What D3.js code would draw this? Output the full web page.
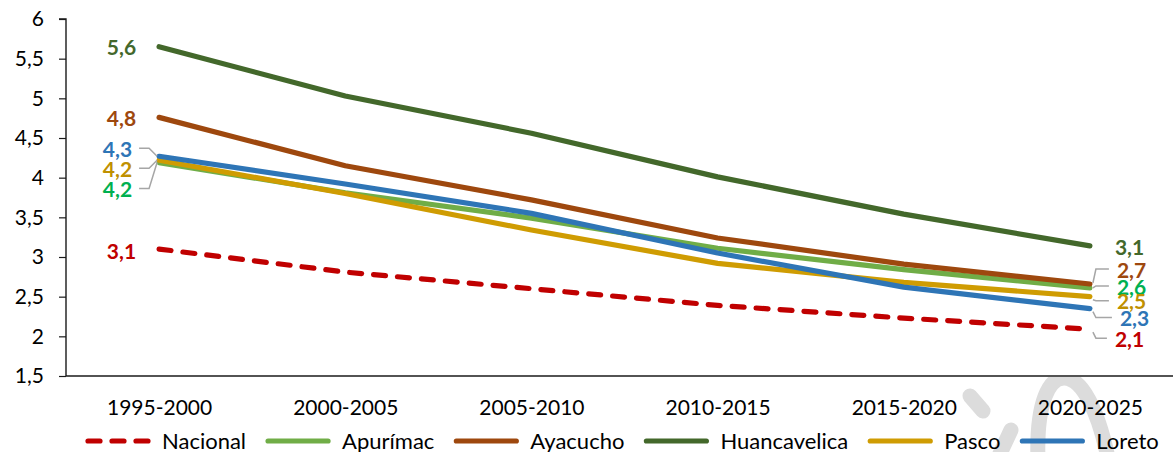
<!DOCTYPE html>
<html>
<head>
<meta charset="utf-8">
<script src="https://cdn.jsdelivr.net/npm/d3@7/dist/d3.min.js"></script>
<style>
  html, body { margin: 0; padding: 0; background: #fff; }
  svg { display: block; font-family: Lato, "Open Sans", sans-serif; }
</style>
</head>
<body>
<svg id="chart" width="1173" height="452"></svg>
<script>
// Periods on the horizontal axis
const periods = ["1995-2000", "2000-2005", "2005-2010", "2010-2015", "2015-2020", "2020-2025"];

// Total fertility rate by region (hijos por mujer)
const nacional     = [3.10, 2.81, 2.60, 2.39, 2.23, 2.09];
const apurimac     = [4.19, 3.81, 3.49, 3.11, 2.84, 2.61];
const ayacucho     = [4.76, 4.15, 3.72, 3.24, 2.91, 2.66];
const huancavelica = [5.65, 5.03, 4.56, 4.01, 3.54, 3.14];
const pasco        = [4.22, 3.80, 3.34, 2.92, 2.68, 2.50];
const loreto       = [4.27, 3.92, 3.55, 3.05, 2.62, 2.35];

// Value labels at the first and last period
const firstLabels = ["3,1", "4,2", "4,8", "5,6", "4,2", "4,3"];
const lastLabels  = ["2,1", "2,6", "2,7", "3,1", "2,5", "2,3"];

// Series names and y-axis ticks
const seriesNames = ["Nacional", "Apurímac", "Ayacucho", "Huancavelica", "Pasco", "Loreto"];
const yTicks = [1.5, 2, 2.5, 3, 3.5, 4, 4.5, 5, 5.5, 6];

// ---- styling / layout ----
const lineColors  = ["#C00000", "#70AD47", "#9E480E", "#43682B", "#CF9C02", "#2E75B6"];
const labelColors = ["#C00000", "#00B050", "#9E480E", "#43682B", "#BF9000", "#2E75B6"];
// vertical offset (px) of each value label from its point, plus whether a leader line is drawn
const firstLabelLayout = [
  { dy: 2,  leader: false }, { dy: 27, leader: true }, { dy: 1, leader: false },
  { dy: 1,  leader: false }, { dy: 9,  leader: true }, { dy: -7, leader: true }
];
const lastLabelLayout = [
  { dy: 10, leader: true, dx: 25 }, { dy: -1, leader: true, dx: 27 }, { dy: -14, leader: true, dx: 27 },
  { dy: 2,  leader: false, dx: 25 }, { dy: 5, leader: true, dx: 27 }, { dy: 10, leader: true, dx: 30 }
];

const seriesValues = [nacional, apurimac, ayacucho, huancavelica, pasco, loreto];
const series = seriesNames.map((name, i) => ({
  name, values: seriesValues[i], color: lineColors[i], labelColor: labelColors[i],
  dashed: i === 0, first: firstLabels[i], last: lastLabels[i],
  firstLayout: firstLabelLayout[i], lastLayout: lastLabelLayout[i]
}));

const svg = d3.select("#chart");
const W = 1173, H = 452;
const plot = { left: 66, right: 1183, top: 19, bottom: 376 };

const x = d3.scalePoint().domain(periods).range([plot.left, plot.right]).padding(0.5);
const y = d3.scaleLinear().domain([1.5, 6]).range([plot.bottom, plot.top]);

const comma = d3.formatLocale({ decimal: ",", thousands: ".", grouping: [3], currency: ["", ""] }).format("~g");

// faint watermark strokes in the lower right corner
const wm = svg.append("g")
  .attr("fill", "none").attr("stroke", "#DCDCDC").attr("stroke-width", 15).attr("stroke-linecap", "round");
svg.append("clipPath").attr("id", "wmclip")
  .append("rect").attr("x", 0).attr("y", plot.bottom + 1).attr("width", W).attr("height", H);
wm.attr("clip-path", "url(#wmclip)");
wm.append("path").attr("d", "M970,396 L983,411");
wm.append("path").attr("d", "M998,458 L1011,430");
wm.append("path").attr("d", "M1038,460 C1036,400 1050,378 1064,378 C1082,378 1098,410 1108,458");

// y axis
const yAxis = d3.axisLeft(y).tickValues(yTicks).tickFormat(comma).tickSize(7).tickPadding(15);
const gy = svg.append("g").attr("transform", `translate(${plot.left},0)`).call(yAxis);
gy.select(".domain").attr("stroke", "#1a1a1a").attr("stroke-width", 1.4)
  .attr("d", `M-7,${plot.top}H0V${plot.bottom}`);
gy.selectAll(".tick line").attr("stroke", "#1a1a1a").attr("stroke-width", 1.2);
gy.selectAll(".tick text").attr("fill", "#000").style("font-size", "21px")
  .style("font-family", "Lato, sans-serif");

// x axis
const xAxis = d3.axisBottom(x).tickSize(0).tickPadding(24);
const gx = svg.append("g").attr("transform", `translate(0,${plot.bottom})`).call(xAxis);
gx.select(".domain").attr("stroke", "#1a1a1a").attr("stroke-width", 1.4)
  .attr("d", `M${plot.left},0H${W}`);
gx.selectAll(".tick text").attr("fill", "#000").style("font-size", "21px")
  .style("font-family", "Lato, sans-serif");

// lines
const line = d3.line().x((d, i) => x(periods[i])).y(d => y(d));
svg.append("g").selectAll("path").data(series).join("path")
  .attr("d", d => line(d.values))
  .attr("fill", "none")
  .attr("stroke", d => d.color)
  .attr("stroke-width", 5.2)
  .attr("stroke-linecap", "round")
  .attr("stroke-linejoin", "round")
  .attr("stroke-dasharray", d => d.dashed ? "12,12" : null);

// value labels + leader lines
const labels = svg.append("g").style("font-family", "Lato, sans-serif")
  .style("font-size", "21px").style("font-weight", "700");
const leaders = svg.append("g").attr("fill", "none").attr("stroke", "#A6A6A6").attr("stroke-width", 1.5);

const x0 = x(periods[0]), x5 = x(periods[periods.length - 1]);
series.forEach(s => {
  // first point label, right-aligned to the left of the point
  const py0 = y(s.values[0]);
  const ly0 = py0 + s.firstLayout.dy;
  const t0 = labels.append("text")
    .attr("x", x0 - 23 - (s.firstLayout.leader ? 4 : 0)).attr("y", ly0).attr("dy", "0.36em")
    .attr("text-anchor", "end").attr("fill", s.labelColor).text(s.first);
  if (s.firstLayout.leader) {
    const ex = x0 - 10;
    leaders.append("path")
      .attr("d", `M${x0 - 20},${ly0 - 1}H${ex}L${x0 - 2},${py0}`);
  }
  // last point label, left-aligned to the right of the point
  const py5 = y(s.values[s.values.length - 1]);
  const ly5 = py5 + s.lastLayout.dy;
  labels.append("text")
    .attr("x", x5 + s.lastLayout.dx).attr("y", ly5).attr("dy", "0.36em")
    .attr("text-anchor", "start").attr("fill", s.labelColor).text(s.last);
  if (s.lastLayout.leader) {
    const ex = x5 + 6;
    leaders.append("path")
      .attr("d", `M${x5 + s.lastLayout.dx - 8},${ly5 - 1}H${ex}L${x5 + 3},${py5 + (s.lastLayout.dy > 0 ? 3 : (s.lastLayout.dy < -3 ? -1 : 0))}`);
  }
});

// legend
const legend = svg.append("g").attr("transform", "translate(0,441)");
let lx = 86;
series.forEach(s => {
  const item = legend.append("g");
  item.append("line")
    .attr("x1", lx + 2).attr("x2", lx + 62).attr("y1", 0).attr("y2", 0)
    .attr("stroke", s.color).attr("stroke-width", 5.2).attr("stroke-linecap", "round")
    .attr("stroke-dasharray", s.dashed ? "12,12" : null);
  const t = item.append("text")
    .attr("x", lx + 76).attr("y", 0).attr("dy", "0.36em")
    .style("font-size", "22px").style("font-family", "Lato, sans-serif")
    .attr("fill", "#000").text(s.name);
  lx += 76 + t.node().getComputedTextLength() + 20;
});
</script>
</body>
</html>
